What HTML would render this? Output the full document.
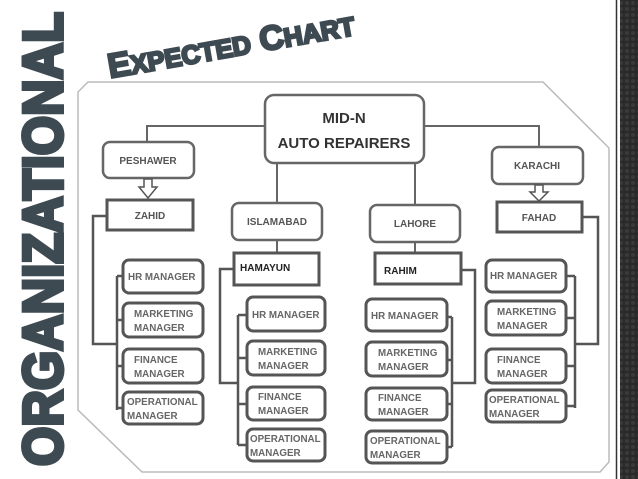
<!DOCTYPE html>
<html><head><meta charset="utf-8"><style>
html,body{margin:0;padding:0;background:#fff;width:638px;height:479px;overflow:hidden}
svg{display:block}
text{font-family:"Liberation Sans",sans-serif;font-weight:bold}
.b{fill:#fff;stroke:#666;stroke-width:2.5}
.s{fill:#fff;stroke:#555;stroke-width:3}
.l{fill:none;stroke:#666;stroke-width:2}
.k{fill:none;stroke:#555;stroke-width:2.5}
.t{fill:#555;font-size:10px}
.m{fill:#666;font-size:9.8px}
</style></head><body>
<svg width="638" height="479" viewBox="0 0 638 479">
<defs><pattern id="hx" width="6" height="6" patternUnits="userSpaceOnUse"><rect width="6" height="6" fill="#2a2a2a"/><circle cx="3" cy="3" r="2" fill="#3a3a3a"/></pattern></defs>
<rect x="620" y="0" width="18" height="479" fill="url(#hx)"/>
<line x1="616.5" y1="0" x2="616.5" y2="479" stroke="#333" stroke-width="1.5"/>
<text transform="translate(62,466) rotate(-90)" font-size="56" fill="#3e4a52" stroke="#3e4a52" stroke-width="4" textLength="454" lengthAdjust="spacingAndGlyphs">ORGANIZATIONAL</text>
<text transform="translate(110,78) rotate(-10)" font-size="34" fill="#3e4a52" stroke="#3e4a52" stroke-width="2.5" textLength="250" lengthAdjust="spacingAndGlyphs">E<tspan font-size="26">XPECTED</tspan> C<tspan font-size="26">HART</tspan></text>
<polygon points="88,82 543,82 609,148 609,462 600,472 142,472 78,410 78,92" fill="#fff" stroke="#bbb" stroke-width="1.5"/>
<rect class="b" x="265" y="95" width="159" height="68" rx="9"/>
<text x="344" y="123" text-anchor="middle" font-size="15" fill="#333">MID-N</text>
<text x="344" y="148" text-anchor="middle" font-size="15" fill="#333">AUTO REPAIRERS</text>
<polyline class="l" points="265,126 147,126 147,142"/>
<polyline class="l" points="424,126 539,126 539,147"/>
<line class="l" x1="277" y1="163" x2="277" y2="203"/>
<line class="l" x1="415" y1="163" x2="415" y2="205"/>
<rect class="b" x="103" y="142" width="91" height="36" rx="7"/><text class="t" x="148" y="164" text-anchor="middle">PESHAWER</text>
<rect class="b" x="492" y="147" width="91" height="37" rx="7"/><text class="t" x="537" y="169" text-anchor="middle">KARACHI</text>
<rect class="b" x="232" y="203" width="90" height="37" rx="7"/><text class="t" x="277" y="225" text-anchor="middle">ISLAMABAD</text>
<rect class="b" x="370" y="205" width="90" height="37" rx="7"/><text class="t" x="415" y="227" text-anchor="middle">LAHORE</text>
<polygon points="144,179 152,179 152,187 157,187 148,198 139,187 144,187" fill="#fff" stroke="#555" stroke-width="1.5"/>
<polygon points="535,185 543,185 543,192 548,192 539,201 530,192 535,192" fill="#fff" stroke="#555" stroke-width="1.5"/>
<rect class="s" x="107" y="200" width="86" height="30"/><text class="t" x="150" y="219" text-anchor="middle">ZAHID</text>
<rect class="s" x="497" y="202" width="85" height="30"/><text class="t" x="539" y="221" text-anchor="middle">FAHAD</text>
<line class="l" x1="277" y1="240" x2="277" y2="253"/>
<line class="l" x1="415" y1="242" x2="415" y2="253"/>
<rect class="s" x="234" y="253" width="85" height="32"/><text x="240" y="271" font-size="10" fill="#222">HAMAYUN</text>
<rect class="s" x="375" y="253" width="86" height="31"/><text x="384" y="274" font-size="10" fill="#222">RAHIM</text>
<polyline class="k" points="107,216 93,216 93,344 117,344"/>
<polyline class="k" points="117,276 117,410"/>
<polyline class="k" points="234,269 220,269 220,383 238,383"/>
<polyline class="k" points="238,315 238,445"/>
<polyline class="k" points="461,270 475,270 475,383 452,383"/>
<polyline class="k" points="452,317 452,447"/>
<polyline class="k" points="582,217 598,217 598,344 575,344"/>
<polyline class="k" points="575,276 575,408"/>
<g>
<line class="k" x1="117" y1="276" x2="123" y2="276"/><line class="k" x1="117" y1="320" x2="123" y2="320"/><line class="k" x1="117" y1="366" x2="123" y2="366"/><line class="k" x1="117" y1="408" x2="123" y2="408"/>
<rect class="s" x="123" y="260" width="80" height="33" rx="6"/><text class="m" x="128" y="280">HR MANAGER</text>
<rect class="s" x="123" y="303" width="80" height="34" rx="6"/><text class="m" x="134" y="317">MARKETING</text><text class="m" x="134" y="331">MANAGER</text>
<rect class="s" x="123" y="349" width="80" height="34" rx="6"/><text class="m" x="134" y="363">FINANCE</text><text class="m" x="134" y="377">MANAGER</text>
<rect class="s" x="123" y="392" width="80" height="32" rx="6"/><text class="m" x="127" y="405">OPERATIONAL</text><text class="m" x="127" y="419">MANAGER</text>
</g>
<g>
<line class="k" x1="238" y1="315" x2="247" y2="315"/><line class="k" x1="238" y1="358" x2="247" y2="358"/><line class="k" x1="238" y1="404" x2="247" y2="404"/><line class="k" x1="238" y1="445" x2="247" y2="445"/>
<rect class="s" x="247" y="297" width="78" height="34" rx="6"/><text class="m" x="252" y="318">HR MANAGER</text>
<rect class="s" x="247" y="341" width="78" height="34" rx="6"/><text class="m" x="258" y="355">MARKETING</text><text class="m" x="258" y="369">MANAGER</text>
<rect class="s" x="247" y="387" width="78" height="33" rx="6"/><text class="m" x="258" y="400">FINANCE</text><text class="m" x="258" y="414">MANAGER</text>
<rect class="s" x="247" y="429" width="78" height="32" rx="6"/><text class="m" x="250" y="442">OPERATIONAL</text><text class="m" x="250" y="456">MANAGER</text>
</g>
<g>
<line class="k" x1="447" y1="317" x2="452" y2="317"/><line class="k" x1="447" y1="360" x2="452" y2="360"/><line class="k" x1="447" y1="404" x2="452" y2="404"/><line class="k" x1="447" y1="447" x2="452" y2="447"/>
<rect class="s" x="366" y="299" width="81" height="32" rx="6"/><text class="m" x="371" y="319">HR MANAGER</text>
<rect class="s" x="366" y="342" width="81" height="34" rx="6"/><text class="m" x="378" y="356">MARKETING</text><text class="m" x="378" y="370">MANAGER</text>
<rect class="s" x="366" y="388" width="81" height="32" rx="6"/><text class="m" x="378" y="401">FINANCE</text><text class="m" x="378" y="415">MANAGER</text>
<rect class="s" x="366" y="431" width="81" height="32" rx="6"/><text class="m" x="370" y="444">OPERATIONAL</text><text class="m" x="370" y="458">MANAGER</text>
</g>
<g>
<line class="k" x1="566" y1="276" x2="575" y2="276"/><line class="k" x1="566" y1="318" x2="575" y2="318"/><line class="k" x1="566" y1="366" x2="575" y2="366"/><line class="k" x1="566" y1="406" x2="575" y2="406"/>
<rect class="s" x="486" y="260" width="80" height="32" rx="6"/><text class="m" x="490" y="279">HR MANAGER</text>
<rect class="s" x="486" y="301" width="80" height="34" rx="6"/><text class="m" x="497" y="315">MARKETING</text><text class="m" x="497" y="329">MANAGER</text>
<rect class="s" x="486" y="349" width="80" height="34" rx="6"/><text class="m" x="497" y="363">FINANCE</text><text class="m" x="497" y="377">MANAGER</text>
<rect class="s" x="486" y="390" width="80" height="32" rx="6"/><text class="m" x="489" y="403">OPERATIONAL</text><text class="m" x="489" y="417">MANAGER</text>
</g>
</svg>
</body></html>
